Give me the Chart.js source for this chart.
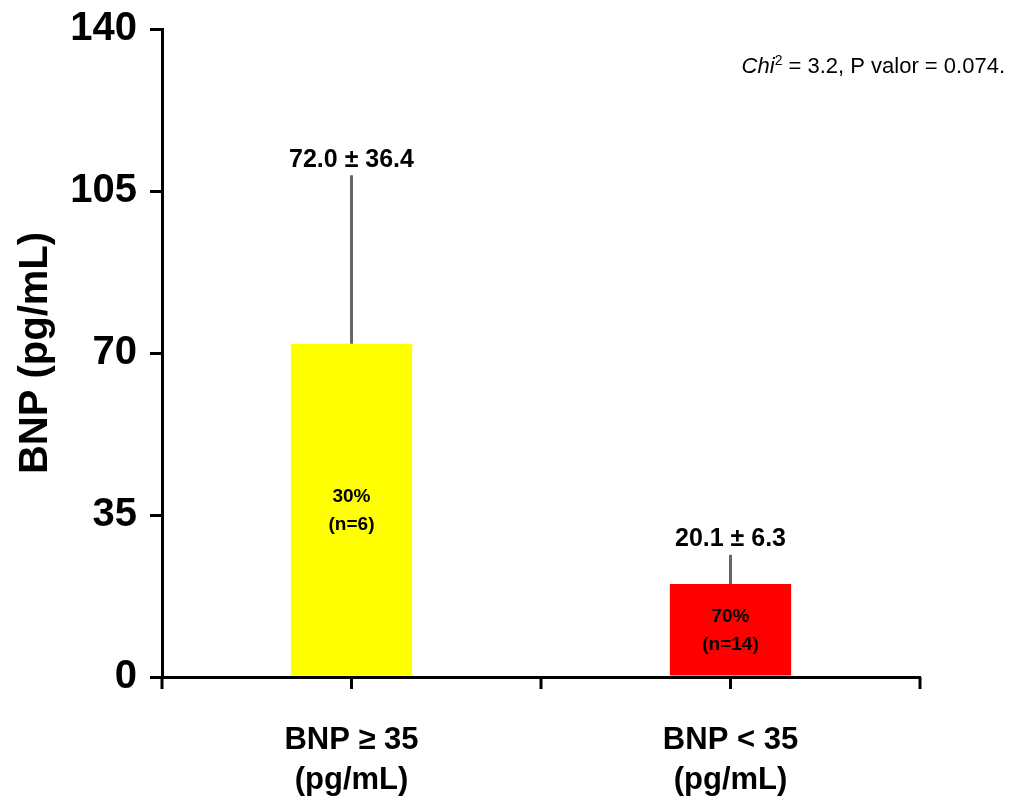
<!DOCTYPE html>
<html>
<head>
<meta charset="utf-8">
<script src="https://cdn.jsdelivr.net/npm/chart.js@4.4.0/dist/chart.umd.min.js"></script>
<style>
    html, body { margin: 0; padding: 0; background: #fff; }
    #wrap { width: 1013px; height: 800px; }
</style>
</head>
<body>
<div id="wrap"><canvas id="chart"></canvas></div>
<script>
const categories = [['BNP \u2265 35', '(pg/mL)'], ['BNP < 35', '(pg/mL)']];
const means = [72.0, 20.1];
const sds = [36.4, 6.3];
const barLabels = [['30%', '(n=6)'], ['70%', '(n=14)']];
const barColors = ['#FFFF00', '#FF0000'];
const yTicks = [0, 35, 70, 105, 140];

const FONT = "'Liberation Sans', Arial, sans-serif";

const errorBars = {
    id: 'errorBars',
    afterDatasetsDraw(chart) {
        const ctx = chart.ctx;
        const y = chart.scales.y;
        const meta = chart.getDatasetMeta(0);
        ctx.save();
        meta.data.forEach(function(bar, i) {
            const top = y.getPixelForValue(means[i] + sds[i]);
            ctx.strokeStyle = '#666666';
            ctx.lineWidth = 3;
            ctx.beginPath();
            ctx.moveTo(bar.x, bar.y);
            ctx.lineTo(bar.x, top);
            ctx.stroke();

            ctx.fillStyle = '#000';
            ctx.textAlign = 'center';
            ctx.textBaseline = 'bottom';
            ctx.font = 'bold 25px ' + FONT;
            ctx.fillText(means[i].toFixed(1) + ' \u00b1 ' + sds[i].toFixed(1), bar.x, top - 3);

            const mid = y.getPixelForValue(means[i] / 2);
            ctx.font = 'bold 19px ' + FONT;
            ctx.textBaseline = 'middle';
            ctx.fillText(barLabels[i][0], bar.x, mid - 14);
            ctx.fillText(barLabels[i][1], bar.x, mid + 14);
        });
        ctx.restore();
    }
};

const xTickMarks = {
    id: 'xTickMarks',
    afterDraw(chart) {
        const ctx = chart.ctx;
        const x = chart.scales.x;
        const n = categories.length;
        const step = (x.right - x.left) / n;
        ctx.save();
        ctx.strokeStyle = '#000';
        ctx.lineWidth = 3;
        for (let k = 0; k <= 2 * n; k++) {
            const px = x.left + k * step / 2;
            ctx.beginPath();
            ctx.moveTo(px, x.top);
            ctx.lineTo(px, x.top + 12);
            ctx.stroke();
        }
        ctx.restore();
    }
};

const annotation = {
    id: 'annotation',
    afterDraw(chart) {
        const ctx = chart.ctx;
        const rightEdge = chart.width - 8;
        const baseY = 73;
        const rest = ' = 3.2, P valor = 0.074.';
        ctx.save();
        ctx.fillStyle = '#000';
        ctx.textBaseline = 'alphabetic';
        ctx.textAlign = 'left';
        ctx.font = '22px ' + FONT;
        const wRest = ctx.measureText(rest).width;
        ctx.font = '14px ' + FONT;
        const wSup = ctx.measureText('2').width;
        ctx.font = 'italic 22px ' + FONT;
        const wChi = ctx.measureText('Chi').width;
        let x0 = rightEdge - wRest - wSup - wChi;
        ctx.fillText('Chi', x0, baseY);
        x0 += wChi;
        ctx.font = '14px ' + FONT;
        ctx.fillText('2', x0, baseY - 8);
        x0 += wSup;
        ctx.font = '22px ' + FONT;
        ctx.fillText(rest, x0, baseY);
        ctx.restore();
    }
};

new Chart(document.getElementById('chart'), {
    type: 'bar',
    data: {
        labels: categories,
        datasets: [{
            data: means,
            backgroundColor: barColors,
            borderWidth: 0,
            barPercentage: 0.32,
            categoryPercentage: 1.0
        }]
    },
    options: {
        responsive: true,
        maintainAspectRatio: false,
        animation: false,
        layout: {
            padding: { top: 29, right: 93, left: 0, bottom: 0 }
        },
        plugins: {
            legend: { display: false },
            tooltip: { enabled: false }
        },
        scales: {
            x: {
                afterFit: function(scale) { scale.height = 123; },
                grid: { display: false },
                border: { display: true, color: '#000', width: 3 },
                ticks: {
                    color: '#000',
                    padding: 35,
                    font: { size: 31, weight: 'bold', family: FONT, lineHeight: 1.3 }
                }
            },
            y: {
                min: 0,
                max: 140,
                afterFit: function(scale) { scale.width = 162; },
                afterBuildTicks: function(scale) {
                    scale.ticks = yTicks.map(function(v) { return { value: v }; });
                },
                border: { display: true, color: '#000', width: 3 },
                grid: {
                    drawOnChartArea: false,
                    drawTicks: true,
                    tickLength: 12,
                    tickColor: '#000',
                    lineWidth: 3
                },
                ticks: {
                    color: '#000',
                    padding: 13,
                    font: { size: 40, weight: 'bold', family: FONT, lineHeight: 0.5 }
                },
                title: {
                    display: true,
                    text: 'BNP (pg/mL)',
                    color: '#000',
                    padding: { top: 12, bottom: 0 },
                    font: { size: 40, weight: 'bold', family: FONT }
                }
            }
        }
    },
    plugins: [errorBars, xTickMarks, annotation]
});
</script>
</body>
</html>
